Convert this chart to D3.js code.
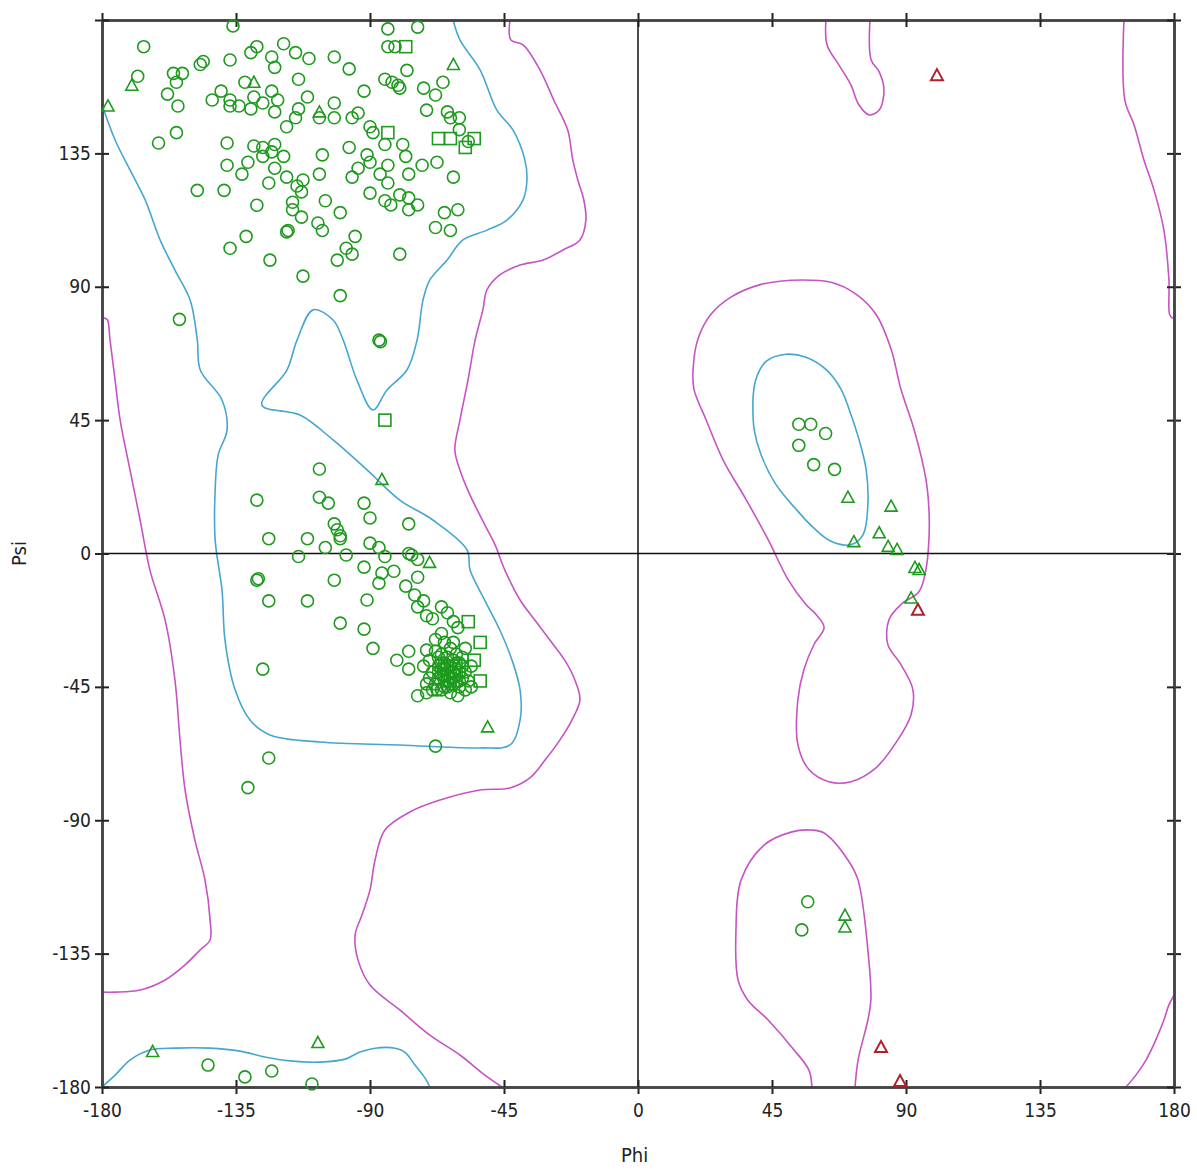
<!doctype html>
<meta charset="utf-8">
<title>Ramachandran plot</title>
<script src="https://cdn.jsdelivr.net/npm/d3@7"></script>
<style>
    body { margin: 0; background: #fff; }
    text { font-family: "DejaVu Sans Condensed", "DejaVu Sans", sans-serif; fill: #222; }
</style>
<body>
<div id="chart"></div>
<script>

    // axis ticks (degrees)
    var phiTicks = [-180, -135, -90, -45, 0, 45, 90, 135, 180]
        , psiTicks = [-180, -135, -90, -45, 0, 45, 90, 135, 180]
        , psiLabels = [-180, -135, -90, -45, 0, 45, 90, 135];

    // general residues (circles), [phi, psi]
    var circlePts = [
        [-136,178],[-166,171],[-168,161],[-156,162],[-153,162],[-155,159],[-147,165],[-146,166],[-158,155],[-154.5,151],
        [-137,166.5],[-130,169],[-128,171],[-119,172],[-115,169],[-110.5,167],[-123,167.5],[-122,164],[-132,159],[-140,156],
        [-143,153],[-137,153],[-137,151],[-134,151],[-130,150],[-129,154],[-126,152],[-123,156],[-121,153],[-122,149],
        [-114,160],[-111,154],[-114,150],[-115,147],[-118,144],[-155,142],[-161,138.5],[-138,138.5],[-129,137.5],[-126,137],
        [-122,138],[-123,135.5],[-119,134],[-126,134],[-131,132],[-138,131],[-133,128],[-122,130],[-124,125],[-118,127],
        [-112.5,126],[-114.5,124],[-113,122],[-107,128],[-106,134.5],[-148,122.5],[-139,122.5],[-128,117.5],[-116,118.5],[-116,116],
        [-113,113.5],[-117.5,109],[-118,108.5],[-107.5,111.5],[-106,109],[-105,119],[-131.6,107],[-137,103],[-123.6,99],[-112.5,93.6],
        [-84,177],[-74,177.6],[-84,171],[-81.6,171],[-102,167.5],[-97,163.5],[-77.6,163],[-85,160],[-82.6,159],[-80.6,158],
        [-80,157],[-92,156],[-72,157],[-68,154.7],[-65.5,159],[-102,152],[-102,147],[-107,147],[-94,148.6],[-96,147],
        [-90,144],[-89,142],[-85,138],[-79,138],[-78,134],[-71,149.6],[-64,149],[-63,147],[-60,147],[-60,143],
        [-57,139],[-97,137],[-91,134.5],[-94,130],[-96,127],[-90,132],[-86.6,128],[-84,131],[-84,125],[-77,128],
        [-72.5,131],[-67.5,132],[-62,127],[-90,121.6],[-85,119],[-80,121],[-77,120],[-83,117.6],[-77,116],[-74,117.6],
        [-100,115],[-65,115],[-60.5,116],[-68,110],[-63,109],[-95,107],[-98,103],[-96,101],[-101,99],[-80,101],
        [-100,87],[-154,79],[-87,72],[-86.5,71.5],
        [-107,28.5],[-128,18],[-107,19],[-104,17],[-92,17],[-90,12],[-102,10],[-101,8],[-100,6],[-100,5],
        [-77,10],[-124,5],[-111,5],[-105,2],[-114,-1],[-98,-0.5],[-90,3.5],[-87,2],[-85,-1],[-77,0],
        [-76,-0.5],[-74,-2],[-92,-4.6],[-82,-6],[-86,-6.6],[-87,-10],[-74,-8],[-128,-9],[-127.5,-8.5],[-102,-9],
        [-124,-16],[-111,-16],[-91,-15.7],[-78,-11],[-75,-14],[-72,-16],[-74,-18],[-71,-21],[-66,-18],[-64,-20],
        [-69,-22],[-62,-23],[-60.5,-25],[-66,-27],[-100,-23.5],[-92,-25.5],[-89,-32],[-77,-33],[-81,-36],[-77,-39],
        [-71,-32.6],[-74,-48],[-71,-47],[-67.5,-46],[-60.5,-48],[-126,-39],[-68,-65],[-124,-69],[-131,-79],
        [-68,-33],[-66,-34],[-64,-35],[-62,-36],[-60,-37],[-70,-36],[-67,-38],[-65,-39],[-63,-40],[-61,-41],
        [-59,-42],[-69,-40],[-66,-41],[-64,-43],[-62,-44],[-60,-45],[-58,-40],[-57,-43],[-56,-38],[-70,-42],
        [-68,-44],[-66,-46],[-63,-47],[-61,-39],[-65,-37],[-67,-35],[-63,-32],[-61,-34],[-59,-35],[-58,-32],
        [-62,-30],[-65,-30],[-68,-29],[-72,-38],[-71,-44],[-69,-46],[-64,-45],[-60,-43],[-58,-46],[-56,-45],
        [-67,-40],[-65,-41],[-63,-42],[-62,-40],[-64,-38],[-66,-39],[-63,-38],[-61,-37],[-65,-43],[-67,-42],
        [-62,-42],[-64,-41],[-66,-37],[-60,-40],[-63,-44],[-65,-45],[-61,-43],[-59,-38],
        [-144.4,-172.6],[-132,-176.6],[-123,-174.6],[-109.5,-179],
        [54,43.6],[58,43.6],[63,40.5],[54,36.5],[59,30],[66,28.4],[57,-117.5],[55,-127]
    ];

    // glycine (triangles)
    var trianglePts = [
        [-170,158],[-178,151],[-129,159],[-107,149],[-62,165],[-86,25],[-70,-3],[-50.5,-58.5],[-163,-168],[-107.5,-165],
        [70.5,19],[85,16],[72.5,4],[81,7],[84,2.4],[87,1.4],[93,-4.7],[94.4,-5.4],[91.7,-15],[69.5,-122],[69.5,-126]
    ];

    // proline (squares)
    var squarePts = [
        [-78,171],[-84,142],[-67,140],[-63,140],[-55,140],[-58,137],[-85,45],[-57,-23],[-53,-30],[-55,-36],[-53,-43]
    ];

    // outliers (red triangles)
    var outlierPts = [[94,-19],[81.6,-166.5],[88,-178],[100.4,161.4]];

    // favoured region contours (cyan)
    var favMain = [
        [-180,151.3],[-175.6,139.5],[-170.6,129.4],[-165.5,119.3],[-160.5,105.8],[-155.5,95.6],[-150.4,85.5],[-148,72],
        [-147,61.9],[-139.7,51.8],[-138,41.7],[-141,33.2],[-142,21.4],[-142,4.5],[-139.7,-12.3],[-138.7,-29.2],[-135.3,-46],
        [-130.3,-56.2],[-123.6,-61.2],[-106.8,-63.6],[-80,-64.6],[-53,-65.6],[-43,-64.6],[-39.6,-56.2],[-39.6,-46],
        [-42.3,-36],[-46.4,-25.8],[-51.5,-15.7],[-56.4,-5.6],[-57.4,1.2],[-68.9,11.3],[-80,18],[-91,28.2],[-102.4,38.3],
        [-113.5,46.7],[-126.3,50.1],[-117.9,61.9],[-114.5,72],[-109.1,82.2],[-102.4,78.8],[-99,72],[-94.4,58.5],[-89,48.4],
        [-84.3,55.2],[-77.6,61.9],[-74.2,72],[-72.2,85.5],[-69.9,92.3],[-64.1,99],[-58.8,105.8],[-50.7,109.1],[-44,112.5],
        [-38.6,119.3],[-37.3,126],[-38,132.8],[-42,142.9],[-47.4,149.6],[-53,163.1],[-59.8,173.3],[-62.1,180]
    ];
    var favBottom = [
        [-180,-180],[-175.6,-176],[-170.6,-170.9],[-163.9,-167.5],[-155.5,-166.9],[-143.7,-166.9],[-133.7,-167.9],
        [-125.3,-169.9],[-116.9,-171.2],[-106.8,-171.6],[-98.4,-170.6],[-93.4,-168.2],[-88.3,-166.9],[-81.6,-166.9],
        [-78.3,-168.2],[-74.9,-172.6],[-71.5,-177],[-69.9,-180]
    ];
    var favLeftHanded = [
        [38.6,52],[39.6,58.8],[43,64.8],[49.7,67.2],[56.4,66.2],[63.1,62.1],[68.2,55.4],[71.5,46.9],[74.2,38.5],
        [76.6,28.4],[77.2,16.5],[75.6,6.4],[71.5,3],[64.8,4.1],[58.8,8.8],[53.1,14.9],[46.3,23.3],[41.3,33.4],[39,41.9],[38.6,52]
    ];

    // allowed region contours (magenta)
    var allowLeft = [
        [-180,79.5],[-178.3,79],[-177.3,72],[-175.6,58.5],[-173.9,45],[-170.6,28.2],[-167.2,11.3],[-163.9,-5.6],[-158.8,-22.5],
        [-155.5,-42.7],[-153.8,-62.9],[-152.1,-79.8],[-148.8,-96.7],[-145.4,-110.2],[-143.7,-123.7],[-143.7,-130.4],
        [-147.1,-133.8],[-152.1,-138.8],[-158.8,-143.9],[-167.2,-147.3],[-175.6,-148],[-180,-148]
    ];
    var allowMain = [
        [-43,180],[-42.7,173.3],[-38.6,171.6],[-32.9,163.1],[-28.3,153],[-23.6,142.9],[-21.9,132.8],[-20.2,126],[-18.2,119.3],
        [-17.5,112.5],[-19.5,105.8],[-25.2,102.4],[-31.9,99],[-39.6,97.3],[-46.4,94],[-50.7,89],[-52.1,82.2],[-54.7,72],
        [-57.1,58.5],[-59.8,45],[-61.5,34.9],[-59.8,28.2],[-56.4,19.7],[-51.4,9.6],[-48,2.9],[-44.7,-5.6],[-39.6,-15.7],
        [-34.6,-22.5],[-29.6,-29.2],[-24.6,-36],[-21.2,-42.7],[-19.5,-49.4],[-22.2,-56.2],[-26.2,-62.9],[-31.2,-69.7],
        [-36.3,-75.7],[-43,-79.1],[-53.1,-79.8],[-66.5,-83.2],[-76.6,-87.2],[-85,-93.3],[-88.3,-103.4],[-90,-113.5],
        [-92.7,-122],[-95,-128.7],[-94,-137.2],[-90,-145.6],[-80,-154],[-69.9,-162.5],[-59.8,-169.2],[-51.4,-176],[-45.7,-180]
    ];
    var allowTopRight = [
        [63.1,180],[63.5,171.6],[67.5,164.8],[71.5,158.1],[74.2,151.3],[77.6,148],[81,149.6],[82.6,156.4],[81,162.5],[78.3,166.5],[77.9,180]
    ];
    var allowEdgeTop = [
        [163.2,180],[163.5,153],[166.6,144.6],[169.9,132.8],[173.3,122.6],[176.6,109.1],[178.3,92.3],[178.6,80.5],[179.7,79.5],[180,85.5]
    ];
    var allowEdgeBottom = [
        [180,-149],[178.3,-152.3],[176.6,-157.4],[173.9,-164.1],[170.6,-170.9],[167.2,-176],[163.9,-180]
    ];
    var allowLeftHanded = [
        [51.4,92.2],[41.3,90.8],[31.2,86.5],[24.5,80.7],[20.1,72.3],[18.5,62.1],[18.8,55.4],[22.8,45.3],[28.5,31.7],
        [36.3,18.2],[43.7,4.7],[50.4,-8.8],[56.4,-17.2],[59.8,-20.6],[62.5,-25],[59.1,-30.7],[55.7,-39.2],[53.7,-49.3],
        [53.7,-64.5],[57.4,-72.9],[64.1,-77],[71.5,-77],[79.9,-72.3],[87.3,-62.8],[91.7,-54.4],[92.3,-45.9],[88.3,-37.5],
        [83.9,-30.7],[84.3,-22.3],[88.3,-17.2],[94.4,-12.8],[96.7,-5.4],[97.7,4.7],[97.7,14.9],[96.7,25],[92.7,41.9],
        [88.3,55.4],[85,68.9],[79.9,80.7],[73.2,87.5],[64.8,91.5],[51.4,92.2]
    ];
    var allowBottomRight = [
        [58.4,-180],[57.4,-174.3],[52.4,-167.5],[43.7,-157.4],[36.9,-150.7],[33.6,-143.9],[32.9,-127],[34.6,-110.2],
        [42.3,-98.4],[51.4,-94],[58.1,-93.3],[62.5,-94.3],[70.5,-103.4],[73.9,-110.2],[77.2,-133.8],[78.2,-150.7],
        [77.2,-157.4],[73.9,-170.9],[72.9,-180]
    ];

    var W = 1197, H = 1174;
    var x = d3.scaleLinear().domain([-180, 180]).range([102, 1174]);
    var y = d3.scaleLinear().domain([-180, 180]).range([1087, 20]);

    var svg = d3.select('#chart').append('svg')
        .attr('width', W).attr('height', H);

    var line = d3.line()
        .x(function(d) { return x(d[0]) })
        .y(function(d) { return y(d[1]) })
        .curve(d3.curveCatmullRom.alpha(0.5));

    // contours
    [favMain, favBottom, favLeftHanded].forEach(function(c) {
        svg.append('path').attr('d', line(c))
            .attr('fill', 'none').attr('stroke', '#45a6d2').attr('stroke-width', 1.6);
    });
    [allowLeft, allowMain, allowTopRight, allowEdgeTop, allowEdgeBottom, allowLeftHanded, allowBottomRight].forEach(function(c) {
        svg.append('path').attr('d', line(c))
            .attr('fill', 'none').attr('stroke', '#c653c6').attr('stroke-width', 1.6);
    });

    // zero lines
    svg.append('line').attr('x1', x(0)).attr('x2', x(0)).attr('y1', y(180)).attr('y2', y(-180))
        .attr('stroke', '#111').attr('stroke-width', 1.5);
    svg.append('line').attr('x1', x(-180)).attr('x2', x(180)).attr('y1', y(0)).attr('y2', y(0))
        .attr('stroke', '#111').attr('stroke-width', 1.5);

    // axes, ticks cross the frame on both sides
    function styleAxis(g) {
        g.select('.domain').attr('stroke', '#444').attr('stroke-width', 2.5);
        g.selectAll('.tick line').attr('stroke', '#222').attr('stroke-width', 2);
        g.selectAll('.tick text').style('font-size', '19px').attr('fill', '#222');
    }
    var outer = 7;
    svg.append('g').attr('transform', 'translate(0,' + y(-180) + ')')
        .call(d3.axisBottom(x).tickValues(phiTicks).tickSize(outer).tickPadding(10).tickSizeOuter(0).tickFormat(String)).call(styleAxis);
    svg.append('g').attr('transform', 'translate(0,' + y(-180) + ')')
        .call(d3.axisTop(x).tickValues(phiTicks).tickSize(outer).tickFormat('').tickSizeOuter(0)).call(styleAxis);
    svg.append('g').attr('transform', 'translate(0,' + y(180) + ')')
        .call(d3.axisTop(x).tickValues(phiTicks).tickSize(outer).tickFormat('').tickSizeOuter(0)).call(styleAxis);
    svg.append('g').attr('transform', 'translate(0,' + y(180) + ')')
        .call(d3.axisBottom(x).tickValues(phiTicks).tickSize(outer).tickFormat('').tickSizeOuter(0)).call(styleAxis);

    svg.append('g').attr('transform', 'translate(' + x(-180) + ',0)')
        .call(d3.axisLeft(y).tickValues(psiTicks).tickSize(outer).tickPadding(4).tickSizeOuter(0)
            .tickFormat(function(d) { return psiLabels.indexOf(d) !== -1 ? String(d) : '' })).call(styleAxis);
    svg.append('g').attr('transform', 'translate(' + x(-180) + ',0)')
        .call(d3.axisRight(y).tickValues(psiTicks).tickSize(outer).tickFormat('').tickSizeOuter(0)).call(styleAxis);
    svg.append('g').attr('transform', 'translate(' + x(180) + ',0)')
        .call(d3.axisRight(y).tickValues(psiTicks).tickSize(outer).tickFormat('').tickSizeOuter(0)).call(styleAxis);
    svg.append('g').attr('transform', 'translate(' + x(180) + ',0)')
        .call(d3.axisLeft(y).tickValues(psiTicks).tickSize(outer).tickFormat('').tickSizeOuter(0)).call(styleAxis);

    // axis titles
    svg.append('text').attr('x', x(0) - 17).attr('y', 1162)
        .style('font-size', '20px').text('Phi');
    svg.append('text').attr('transform', 'translate(26,' + y(0) + ') rotate(-90)')
        .attr('text-anchor', 'middle').style('font-size', '20px').text('Psi');

    // markers
    var green = '#1e9a1e', red = '#b0202c';
    svg.append('g').selectAll('circle').data(circlePts).enter().append('circle')
        .attr('cx', function(d) { return x(d[0]) })
        .attr('cy', function(d) { return y(d[1]) })
        .attr('r', 6)
        .attr('fill', 'none').attr('stroke', green).attr('stroke-width', 1.6);

    svg.append('g').selectAll('rect').data(squarePts).enter().append('rect')
        .attr('x', function(d) { return x(d[0]) - 6 })
        .attr('y', function(d) { return y(d[1]) - 6 })
        .attr('width', 12).attr('height', 12)
        .attr('fill', 'none').attr('stroke', green).attr('stroke-width', 1.6);

    function triangle(d) {
        var cx = x(d[0]), cy = y(d[1]);
        return 'M' + cx + ',' + (cy - 6) + 'L' + (cx + 6) + ',' + (cy + 5) + 'L' + (cx - 6) + ',' + (cy + 5) + 'Z';
    }
    svg.append('g').selectAll('path').data(trianglePts).enter().append('path')
        .attr('d', triangle)
        .attr('fill', 'none').attr('stroke', green).attr('stroke-width', 1.6);
    svg.append('g').selectAll('path').data(outlierPts).enter().append('path')
        .attr('d', triangle)
        .attr('fill', 'none').attr('stroke', red).attr('stroke-width', 2);

</script>
</body>
